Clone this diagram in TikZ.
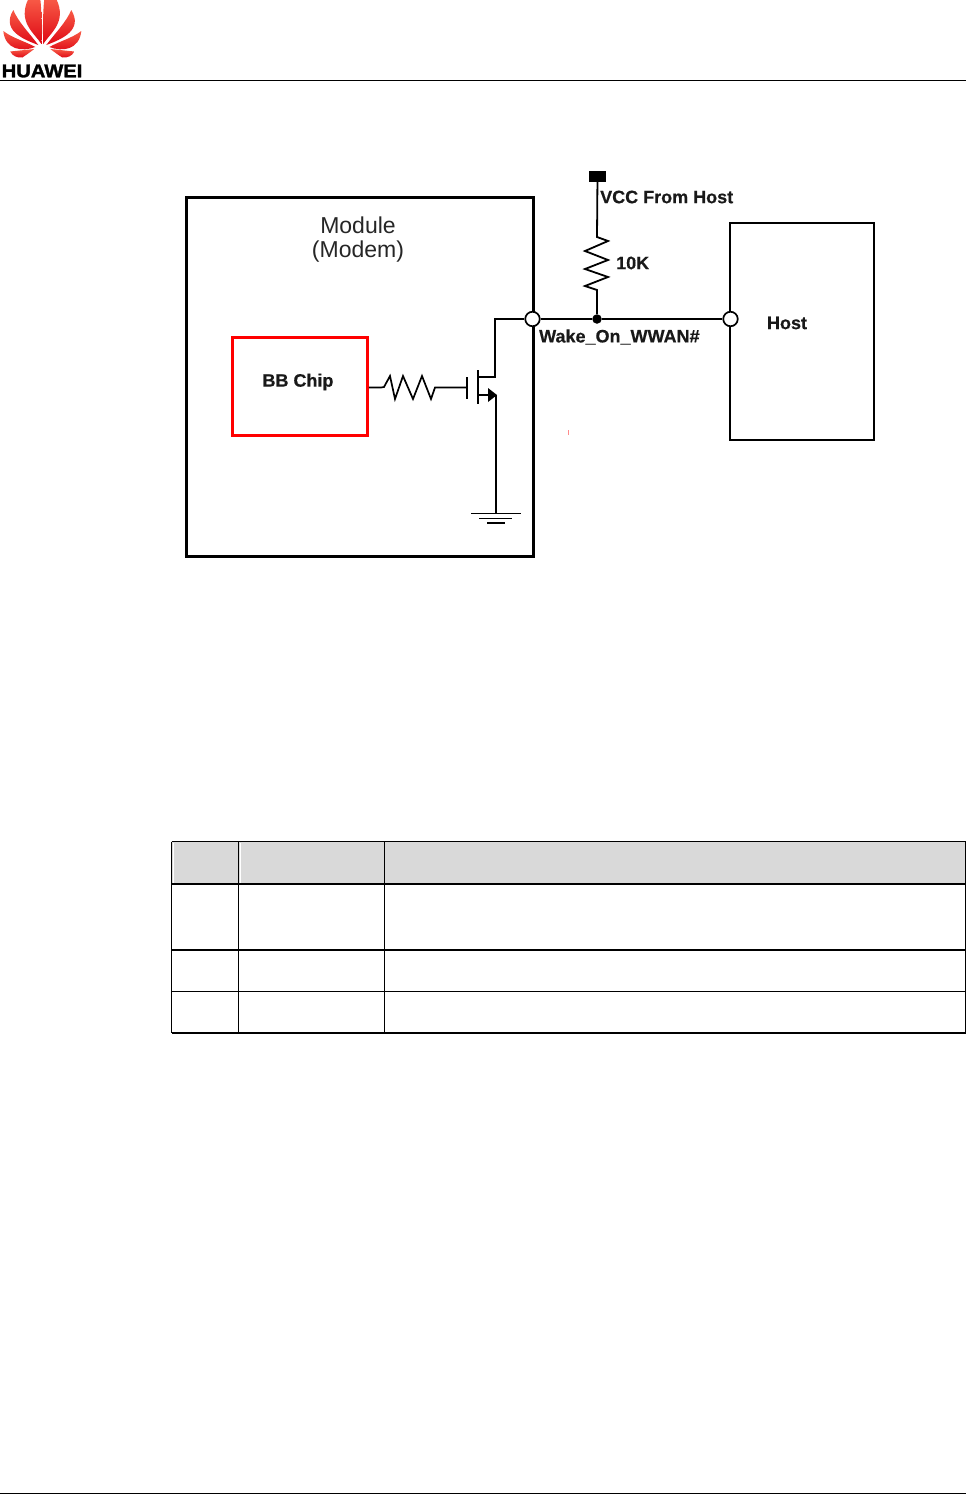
\documentclass[tikz,border=0pt]{standalone}
\usepackage{fontspec}
\setmainfont{Liberation Sans}
\newfontfamily\hwfont[BoldFeatures={FakeBold=1.6}]{Liberation Sans}
\newfontfamily\lblfont[BoldFeatures={FakeBold=0.5}]{Liberation Sans}
\definecolor{hwdark}{RGB}{222,8,20}
\definecolor{hwlight}{RGB}{248,90,70}
\definecolor{hdrgray}{RGB}{217,217,217}
\tikzset{
  wire/.style={line width=1.8pt,line join=miter},
  thinwire/.style={line width=1.7pt,line join=miter},
  modbox/.style={draw,line width=3pt,fill=none},
  hostbox/.style={draw,line width=2pt,fill=none},
  chipbox/.style={draw=red,line width=2.6pt,fill=none},
  port/.style={circle,draw,fill=white,line width=1.7pt,minimum size=14.5pt,inner sep=0pt},
  junction/.style={circle,fill=black,minimum size=9.5pt,inner sep=0pt},
  lbl/.style={font=\lblfont\bfseries\fontsize{18}{20}\selectfont,inner sep=0pt,text=black!90},
  modtxt/.style={font=\fontsize{23}{25}\selectfont,inner sep=0pt,align=center,text=black!85},
  tcell/.style={line width=1.5pt},
  tthick/.style={line width=2.5pt},
  petal/.style={shade,top color=hwlight,bottom color=hwdark,draw=none},
}
\begin{document}
\begin{tikzpicture}[x=1pt,y=-1pt]
\useasboundingbox (0,0) rectangle (966,1494);
\fill[white] (0,0) rectangle (966,1494);
% logo
\foreach \s in {1,-1}{
 \begin{scope}[shift={(42.3,0)},xscale=\s]
  \path[petal] (-0.9,44) .. controls (-8,33) and (-25,22) .. (-14,-1) -- (-2,-1) .. controls (-0.5,12) and (-0.5,32) .. (-0.9,44) -- cycle;
  \path[petal] (-4,45) .. controls (-20,39) and (-41,30) .. (-29,10) .. controls (-24,22) and (-13,33) .. (-4,45) -- cycle;
  \path[petal] (-7,47) .. controls (-20,52) and (-37,50) .. (-39,31) .. controls (-30,38) and (-18,41) .. (-7,47) -- cycle;
  \path[petal] (-8,49) -- (-32,51.5) .. controls (-30,56) and (-25,58) .. (-20,57.5) .. controls (-16,55) and (-12,52) .. (-8,49) -- cycle;
 \end{scope}
}
\node[inner sep=0pt,anchor=west,xscale=1.09,font=\hwfont\bfseries\fontsize{18.5}{20}\selectfont] (logotxt) at (1.5,71) {HUAWEI};
\coordinate (hl) at (0,80.5); \coordinate (hr) at (966,80.5);
\draw[line width=1pt] (hl) -- (hr);
\coordinate (fl) at (0,1493.5); \coordinate (fr) at (966,1493.5);
\draw[line width=1pt] (fl) -- (fr);
% boxes
\node[modbox,minimum width=347pt,minimum height=358.5pt,inner sep=0pt] (module) at (360,377) {};
\node[hostbox,minimum width=144pt,minimum height=217pt,inner sep=0pt] (host) at (802,331.5) {};
\node[chipbox,minimum width=135pt,minimum height=98pt,inner sep=0pt] (chip) at (300,386.5) {};
\node[modtxt] (modlabel) at (358,239.5) {Module\\[-1.5pt](Modem)};
\node[lbl] (chiplabel) at (298,382) {BB Chip};
\node[lbl] (hostlabel) at (787,323) {Host};
\node[lbl,anchor=west] (vcclabel) at (600,197) {VCC From Host};
\node[lbl,anchor=west] (rlabel) at (616,263) {10K};
\node[lbl,anchor=west] (wake) at (539,337) {Wake\_On\_WWAN\#};
% ports
\node[port] (pl) at (532.5,319) {};
\node[port] (pr) at (730.5,319) {};
\node[junction] (jn) at (597,319) {};
\node[fill=black,minimum width=17pt,minimum height=11pt,inner sep=0pt] (vcc) at (597.5,176) {};
% pull up
\coordinate (r1) at (597,237);
\coordinate (r2) at (597,290);
\draw[wire] (vcc) -- (r1) -- (608,241) -- (585,251) -- (608,260) -- (585,269) -- (608,277) -- (585,286) -- (r2) -- (jn);
\draw[wire] (pl) -- (jn) -- (pr);
% gate resistor
\coordinate (g1) at (381,387.5);
\coordinate (g2) at (435,387.5);
\coordinate (gate) at (467,387.5);
\draw[thinwire] (chip.east) ++(0,1) coordinate (cout) -- (g1) -- (384,387) -- (390,376) -- (395,399) -- (403,376) -- (413,399) -- (422,376) -- (431,399) -- (g2) -- (gate);
% mosfet
\coordinate (gt) at (467,377); \coordinate (gb) at (467,399);
\draw[wire,line width=2pt] (gt) -- (gb);
\coordinate (ct) at (478,370); \coordinate (cb) at (478,404);
\draw[wire,line width=2pt] (ct) -- (cb);
\coordinate (drain) at (495,377);
\draw[wire] (478,377) -- (drain) -- (495,319) -- (pl);
\coordinate (src) at (496,395);
\coordinate (gnd) at (496,513);
\draw[wire] (478,395) -- (489,395);
\fill (488,388) -- (497,395) -- (488,402) -- cycle;
\draw[wire] (src) -- (gnd);
\coordinate (ga) at (471,513.5); \coordinate (gc) at (521,513.5);
\draw[wire] (ga) -- (gc);
\coordinate (ha) at (479,518.5); \coordinate (hc) at (512,518.5);
\draw[wire] (ha) -- (hc);
\coordinate (ia) at (487,523); \coordinate (ic) at (505,523);
\draw[wire] (ia) -- (ic);
% stray mark
\coordinate (ma) at (568.5,430); \coordinate (mb) at (568.5,435);
\draw[line width=0.7pt,red!45] (ma) -- (mb);
% table
\fill[hdrgray] (172,842) rectangle (965.5,883);
\coordinate (t1) at (171.5,841.5); \coordinate (t1r) at (965.5,841.5);
\coordinate (t2) at (171.5,884); \coordinate (t2r) at (965.5,884);
\coordinate (t3) at (171.5,950); \coordinate (t3r) at (965.5,950);
\coordinate (t4) at (171.5,991.5); \coordinate (t4r) at (965.5,991.5);
\coordinate (t5) at (171.5,1033); \coordinate (t5r) at (965.5,1033);
\draw[white,line width=1pt] (173.5,842.5) -- (173.5,883) (240,842.5) -- (240,883);
\draw[tcell] (t1) -- (t1r);
\draw[tthick] (t2) -- (t2r);
\draw[tthick] (t3) -- (t3r);
\draw[tcell] (t4) -- (t4r);
\draw[tcell] (t5) -- (t5r);
\draw[tcell] (t1) -- (t5);
\draw[tcell] (238.5,841.5) -- (238.5,1033);
\draw[tcell] (384.5,841.5) -- (384.5,1033);
\draw[tcell] (965.5,841.5) -- (965.5,1033);
\end{tikzpicture}
\end{document}
